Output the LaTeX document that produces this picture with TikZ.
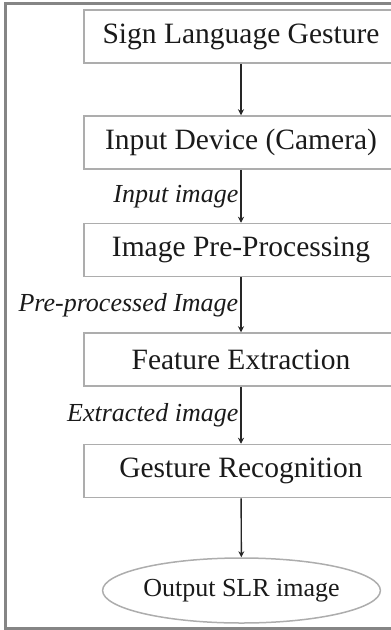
\documentclass[tikz,border=0pt]{standalone}
\usepackage{fontspec}
\setmainfont{Liberation Serif}
\usetikzlibrary{shapes.geometric,arrows.meta}
\definecolor{framegray}{HTML}{858585}
\definecolor{boxgray}{HTML}{ADADAD}
\definecolor{txt}{HTML}{1A1A1A}
\definecolor{arr}{HTML}{262626}
\tikzset{
  stepbox/.style={draw=boxgray, line width=1.5pt, rectangle, minimum width=314pt,
    minimum height=53pt, inner sep=0pt, text=txt, font=\fontsize{29.5}{33}\selectfont},
  outbox/.style={draw=boxgray, line width=1.5pt, ellipse, minimum width=227pt,
    minimum height=65pt, inner sep=0pt, text=txt, font=\fontsize{26}{30}\selectfont},
  flow/.style={draw=arr, line width=1.4pt, -{Stealth[length=6pt,width=6pt]}},
  lab/.style={anchor=east, inner sep=2pt, text=txt, font=\fontsize{26}{30}\selectfont\itshape}
}
\begin{document}
\begin{tikzpicture}[x=1pt,y=-1pt]
\useasboundingbox (0,0) rectangle (391,630);
\clip (0,0) rectangle (391,630);
\draw[framegray, line width=3pt] (5.5,3.5) rectangle (420,628.5);
\node[stepbox] (b1) at (241,36.5) {Sign Language Gesture};
\node[stepbox] (b2) at (241,142.5) {Input Device (Camera)};
\node[stepbox] (b3) at (241,250) {Image Pre-Processing};
\node[stepbox] (b4) at (241,359.5) {Feature Extraction};
\node[stepbox] (b5) at (241,471) {Gesture Recognition};
\node[outbox] (o) at (241.5,590.5) {Output SLR image};
\draw[flow] (b1) -- (b2);
\draw[flow] (b2) -- node[lab] {Input image} (b3);
\draw[flow] (b3) -- node[lab] {Pre-processed Image} (b4);
\draw[flow] (b4) -- node[lab] {Extracted image} (b5);
\draw[flow] (b5) -- (o);
\end{tikzpicture}
\end{document}
